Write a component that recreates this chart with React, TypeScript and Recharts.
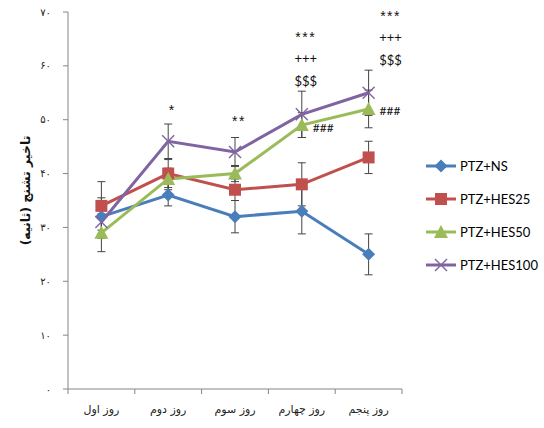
import React from 'react'
import { LineChart, Line, XAxis, YAxis, ErrorBar, LabelList, Label } from 'recharts'

// روزها و مقادیر (ثانیه)
const days = ['روز اول', 'روز دوم', 'روز سوم', 'روز چهارم', 'روز پنجم']
const ns = [32, 36, 32, 33, 25]
const nsErr = [3.5, 2, 3, 4.2, 3.8]
const hes25 = [34, 40, 37, 38, 43]
const hes25Err = [4.5, 2.6, 2, 4, 3]
const hes50 = [29, 39, 40, 49, 52]
const hes50Err = [3.5, 2, 1.5, 2.3, 3.5]
const hes100 = [31, 46, 44, 51, 55]
const hes100Err = [3, 3.2, 2.7, 4.3, 4.2]

// significance marks
const stars = ['', '*', '**', '***', '***']
const plus = ['', '', '', '+++', '+++']
const dollars = ['', '', '', '$$$', '$$$']
const hashes = ['', '', '', '###', '###']

const yTicks = [0, 10, 20, 30, 40, 50, 60, 70]
const xTicks = [0, 1, 2, 3, 4, 5]

const W = 544
const H = 428
const M = { top: 12, right: 142, left: 0, bottom: 0 }
const Y_W = 68
const X_H = 39
const halfBand = (W - M.right - Y_W) / days.length / 2
const labelCy = M.top + (H - M.top - X_H) / 2 - 10

const FA = '"DejaVu Sans", sans-serif'
const LAT = 'Lato, "Open Sans", sans-serif'

const toFa = (v: number | string) => String(v).replace(/\d/g, (d) => '۰۱۲۳۴۵۶۷۸۹'[+d])

const data = days.map((d, i) => ({
  x: i + 0.5,
  day: d,
  ns: ns[i], nsErr: nsErr[i],
  hes25: hes25[i], hes25Err: hes25Err[i],
  hes50: hes50[i], hes50Err: hes50Err[i],
  hes100: hes100[i], hes100Err: hes100Err[i],
  stars: stars[i], plus: plus[i], dollars: dollars[i], hashes: hashes[i],
}))

const diamond = (cx: number, cy: number, c: string, k?: any) => (
  <path key={k} d={`M${cx},${cy - 6.5}L${cx + 6.5},${cy}L${cx},${cy + 6.5}L${cx - 6.5},${cy}Z`} fill={c} />
)
const square = (cx: number, cy: number, c: string, k?: any) => (
  <rect key={k} x={cx - 6} y={cy - 6} width={12} height={12} fill={c} />
)
const triangle = (cx: number, cy: number, c: string, k?: any) => (
  <path key={k} d={`M${cx},${cy - 7}L${cx + 7},${cy + 6}L${cx - 7},${cy + 6}Z`} fill={c} />
)
const cross = (cx: number, cy: number, c: string, k?: any) => (
  <g key={k} stroke={c} strokeWidth={1.4}>
    <line x1={cx - 6} y1={cy - 6} x2={cx + 6} y2={cy + 6} />
    <line x1={cx - 6} y1={cy + 6} x2={cx + 6} y2={cy - 6} />
  </g>
)

const series = [
  { key: 'ns', name: 'PTZ+NS', color: '#4A7EBB', mark: diamond },
  { key: 'hes25', name: 'PTZ+HES25', color: '#C0504D', mark: square },
  { key: 'hes50', name: 'PTZ+HES50', color: '#9BBB59', mark: triangle },
  { key: 'hes100', name: 'PTZ+HES100', color: '#8064A2', mark: cross },
]

const DayTick = (p: any) => {
  const i = p.payload.value
  if (i >= days.length) return null
  return (
    <text x={p.x + halfBand} y={p.y + 13} textAnchor="middle" dominantBaseline="central"
      fontFamily={FA} fontSize={11} fill="#222">
      {days[i]}
    </text>
  )
}

const SigAbove = (p: any) => {
  const { x, y, index } = p
  const lines = [stars[index], plus[index], dollars[index]].filter(Boolean)
  const dx = index === days.length - 1 ? 22 : 4
  return (
    <g>
      {lines.map((t, j) => {
        const isStar = t.startsWith('*')
        return (
          <text key={j} x={x + dx} y={y - 33 - (lines.length - 1 - j) * 23 + (isStar ? 2 : 0)} textAnchor="middle"
            dominantBaseline="central" fontFamily={isStar ? '"Liberation Sans", sans-serif' : LAT}
            fontSize={isStar ? 14 : 13} letterSpacing={isStar ? 1.5 : 0} fill="#111">
            {t}
          </text>
        )
      })}
    </g>
  )
}

const SigHash = (p: any) => {
  const { x, y, index } = p
  if (!hashes[index]) return null
  return (
    <text x={x + 11} y={y + 2} dominantBaseline="central" fontFamily={LAT} fontSize={12} fill="#111">
      {hashes[index]}
    </text>
  )
}

export default function App() {
  return (
    <div style={{ position: 'absolute', left: 0, top: 0, width: W, height: H, background: '#fff' }}>
      <LineChart width={W} height={H} data={data} margin={M}>
        <XAxis dataKey="x" type="number" domain={[0, 5]} ticks={xTicks} interval={0}
          tick={<DayTick />} tickSize={5} tickLine={{ stroke: '#868686' }} axisLine={{ stroke: '#868686' }} height={X_H} />
        <YAxis type="number" domain={[0, 70]} ticks={yTicks} interval={0} width={Y_W}
          tickSize={5} tickMargin={12} tickLine={{ stroke: '#868686' }} axisLine={{ stroke: '#868686' }}
          tickFormatter={toFa} tick={{ fontFamily: FA, fontSize: 10, fill: '#222' }}>
          <Label content={() => (
            <text x={25} y={labelCy} transform={`rotate(-90 25 ${labelCy})`} textAnchor="middle" dominantBaseline="central"
              fontFamily={FA} fontSize={12.5} fontWeight="bold" fill="#111">
              تاخیر تشنج (ثانیه)
            </text>
          )} />
        </YAxis>
        {series.map((s) => (
          <Line key={s.key} dataKey={s.key} name={s.name} stroke={s.color} strokeWidth={3}
            isAnimationActive={false}
            dot={(p: any) => s.mark(p.cx, p.cy, s.color, `${s.key}-${p.index}`)}
            activeDot={false}>
            <ErrorBar dataKey={`${s.key}Err`} direction="y" width={4} stroke="#444" strokeWidth={1} isAnimationActive={false} />
            {s.key === 'hes100' && <LabelList dataKey="stars" content={<SigAbove />} />}
            {s.key === 'hes50' && <LabelList dataKey="hashes" content={<SigHash />} />}
          </Line>
        ))}
      </LineChart>
      <svg style={{ position: 'absolute', left: 424, top: 150 }} width={120} height={130}>
        {series.map((s, i) => {
          const cy = 16 + i * 33
          return (
            <g key={s.key}>
              <line x1={2} y1={cy} x2={32} y2={cy} stroke={s.color} strokeWidth={3} />
              {s.mark(17, cy, s.color)}
              <text x={36} y={cy} dominantBaseline="central" fontFamily={LAT} fontSize={13} fill="#000">
                {s.name}
              </text>
            </g>
          )
        })}
      </svg>
    </div>
  )
}
